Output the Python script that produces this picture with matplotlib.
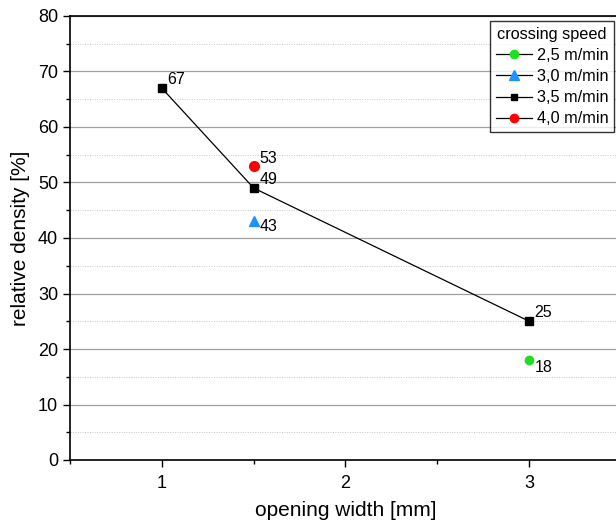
import matplotlib
matplotlib.use("Agg")
import matplotlib.pyplot as plt
from matplotlib.lines import Line2D
from matplotlib.ticker import MultipleLocator

plt.rcParams['font.family'] = ['Liberation Sans', 'DejaVu Sans']

series_names = ["2,5 m/min", "3,0 m/min", "3,5 m/min", "4,0 m/min"]
x_25 = [3.0]
y_25 = [18]
x_30 = [1.5]
y_30 = [43]
x_35 = [1.0, 1.5, 3.0]
y_35 = [67, 49, 25]
x_40 = [1.5]
y_40 = [53]

fig = plt.figure(figsize=(6.16, 5.22), dpi=100)
W, H = 616, 522
ax = fig.add_axes([70 / W, (H - 460) / H, (621 - 70) / W, (460 - 16) / H])

ax.set_xlim(0.5, 3.5)
ax.set_ylim(0, 80)
ax.xaxis.set_major_locator(MultipleLocator(1))
ax.xaxis.set_minor_locator(MultipleLocator(0.5))
ax.yaxis.set_major_locator(MultipleLocator(10))
ax.yaxis.set_minor_locator(MultipleLocator(5))

ax.grid(True, which='major', axis='y', color='#a0a0a0', lw=0.9, ls='-')
ax.grid(True, which='minor', axis='y', color='#c8c8c8', lw=0.7, ls=(0, (1, 1.5)))
ax.set_axisbelow(True)

for s in ['left', 'bottom', 'top']:
    ax.spines[s].set_color('black')
    ax.spines[s].set_linewidth(1.2)
ax.spines['right'].set_visible(False)

ax.tick_params(which='major', direction='out', length=5, width=1.0, labelsize=13, colors='black')
ax.tick_params(which='minor', direction='out', length=3, width=1.0)
ax.tick_params(axis='x', which='major', pad=6)

ax.plot(x_25, y_25, 'o', color='#22dd22', ms=6, zorder=3)
ax.plot(x_30, y_30, '^', color='#1e90ff', ms=7, zorder=3)
ax.plot(x_35, y_35, 's', color='black', ls='-', lw=0.9, ms=6, zorder=3)
ax.plot(x_40, y_40, 'o', color='#ff0000', ms=7, zorder=3)

def lab(x, y, dy_pts):
    ax.annotate(f"{y}", (x, y), xytext=(4, dy_pts), textcoords='offset points',
                fontsize=11.5, va='center', ha='left')

for x, y in zip(x_35, y_35):
    lab(x, y, 6)
lab(x_40[0], y_40[0], 5)
lab(x_30[0], y_30[0], -4)
lab(x_25[0], y_25[0], -5)

ax.set_xlabel("opening width [mm]", fontsize=15, labelpad=6)
ax.set_ylabel("relative density [%]", fontsize=15, labelpad=6)

handles = [
    Line2D([], [], color='black', lw=0.9, marker='o', mfc='#22dd22', mec='#22dd22', ms=6),
    Line2D([], [], color='black', lw=0.9, marker='^', mfc='#1e90ff', mec='#1e90ff', ms=7),
    Line2D([], [], color='black', lw=0.9, marker='s', mfc='black', mec='black', ms=5),
    Line2D([], [], color='black', lw=0.9, marker='o', mfc='#ff0000', mec='#ff0000', ms=6),
]
leg = ax.legend(handles, series_names, title="crossing speed", loc='upper right',
                bbox_to_anchor=(614 / W, (H - 21) / H), bbox_transform=fig.transFigure,
                fontsize=11.7, title_fontsize=11.7, frameon=True, fancybox=False,
                edgecolor='black', handlelength=2.2, handletextpad=0.3,
                borderpad=0.35, labelspacing=0.38, borderaxespad=0)
leg.get_frame().set_linewidth(1.0)

fig.savefig("out.png", dpi=100)
